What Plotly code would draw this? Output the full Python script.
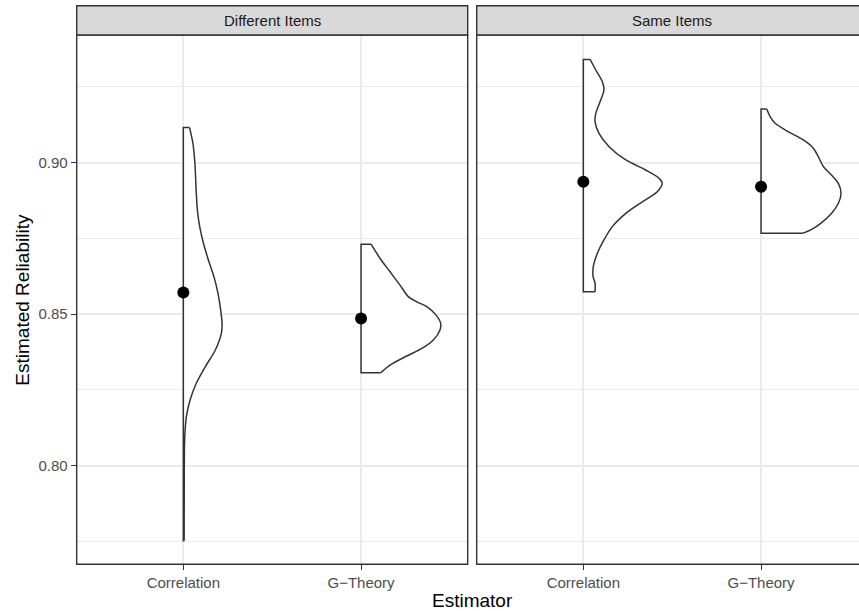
import plotly.graph_objects as go

# ---------------- data ----------------
facets = ["Different Items", "Same Items"]
estimators = ["Correlation", "G\u2212Theory"]
y_ticks = [0.80, 0.85, 0.90]
y_tick_labels = ["0.80", "0.85", "0.90"]
y_minor = [0.775, 0.825, 0.875, 0.925]

mean_diff = [0.8572, 0.8486]
mean_same = [0.8937, 0.8921]

# half-violin outlines: estimated reliability value and half-width (category units)
diff_corr_y = [0.9116, 0.9064, 0.8998, 0.8899, 0.8844, 0.8789, 0.8734, 0.8679, 0.8624,
               0.8569, 0.8514, 0.8470, 0.8437, 0.8382, 0.8327, 0.8272, 0.8217, 0.8162,
               0.8107, 0.8050, 0.7900, 0.7752]
diff_corr_w = [0.035, 0.054, 0.065, 0.073, 0.079, 0.092, 0.113, 0.141, 0.172,
               0.195, 0.210, 0.218, 0.214, 0.180, 0.124, 0.073, 0.038, 0.017,
               0.009, 0.006, 0.005, 0.0045]

diff_gth_y = [0.8731, 0.8684, 0.8640, 0.8596, 0.8558, 0.8541, 0.8525, 0.8497, 0.8470,
              0.8448, 0.8415, 0.8387, 0.8362, 0.8332, 0.8307]
diff_gth_w = [0.056, 0.107, 0.163, 0.219, 0.266, 0.313, 0.370, 0.422, 0.448,
              0.444, 0.407, 0.342, 0.257, 0.163, 0.111]

same_corr_y = [0.9341, 0.9306, 0.9267, 0.9240, 0.9207, 0.9163, 0.9135, 0.9097, 0.9053,
               0.9009, 0.8976, 0.8949, 0.8932, 0.8904, 0.8871, 0.8833, 0.8789, 0.8745,
               0.8701, 0.8657, 0.8624, 0.8602, 0.8574]
same_corr_w = [0.038, 0.070, 0.107, 0.116, 0.098, 0.070, 0.066, 0.088, 0.145,
               0.239, 0.351, 0.426, 0.444, 0.416, 0.332, 0.239, 0.163, 0.116,
               0.079, 0.056, 0.055, 0.066, 0.066]

same_gth_y = [0.9177, 0.9152, 0.9130, 0.9102, 0.9075, 0.9048, 0.9020, 0.8987, 0.8959,
              0.8932, 0.8899, 0.8866, 0.8833, 0.8802, 0.8780, 0.8767]
same_gth_w = [0.032, 0.051, 0.079, 0.154, 0.238, 0.294, 0.322, 0.351, 0.397,
              0.435, 0.450, 0.435, 0.397, 0.341, 0.285, 0.234]

# ---------------- styling ----------------
W, H = 859, 611
FONT = "Liberation Sans, Arial, Helvetica, sans-serif"
OUTLINE = "#333333"
GRID = "#EBEBEB"
TICKTXT = "#4D4D4D"

# panel geometry in pixels
panel_top, panel_bot = 35.0, 564.3
strip_top = 5.7
left_x0, left_x1 = 76.7, 467.7
right_x0 = 476.7
unit_px = (left_x1 - left_x0) / 2.2

def px_x(p):
    return p / W

def px_y(p):
    return 1 - p / H

fig = go.Figure()

violins = [
    ("x", "y", 1, diff_corr_y, diff_corr_w, mean_diff[0]),
    ("x", "y", 2, diff_gth_y, diff_gth_w, mean_diff[1]),
    ("x2", "y2", 1, same_corr_y, same_corr_w, mean_same[0]),
    ("x2", "y2", 2, same_gth_y, same_gth_w, mean_same[1]),
]

for xa, ya, pos, ys, ws, m in violins:
    xs = [pos + w for w in ws]
    # white fill
    fig.add_trace(go.Scatter(
        x=[pos] + xs + [pos], y=[ys[0]] + ys + [ys[-1]],
        xaxis=xa, yaxis=ya, mode="lines", fill="toself", fillcolor="white",
        line=dict(width=0, shape="spline"), hoverinfo="skip", showlegend=False))
    # curved edge
    fig.add_trace(go.Scatter(
        x=xs, y=ys, xaxis=xa, yaxis=ya, mode="lines",
        line=dict(color=OUTLINE, width=1.5, shape="spline", smoothing=0.8),
        hoverinfo="skip", showlegend=False))
    # straight edges
    fig.add_trace(go.Scatter(
        x=[xs[0], pos, pos, xs[-1]], y=[ys[0], ys[0], ys[-1], ys[-1]],
        xaxis=xa, yaxis=ya, mode="lines",
        line=dict(color=OUTLINE, width=1.5), hoverinfo="skip", showlegend=False))
    # mean point
    fig.add_trace(go.Scatter(
        x=[pos], y=[m], xaxis=xa, yaxis=ya, mode="markers",
        marker=dict(color="black", size=12), showlegend=False))

y_range = [0.76746, 0.94215]
common_x = dict(
    tickmode="array", tickvals=[1, 2], ticktext=estimators,
    showgrid=True, gridcolor=GRID, gridwidth=1.6, zeroline=False, showline=False,
    ticks="outside", ticklen=5, tickwidth=1.3, tickcolor=OUTLINE,
    tickfont=dict(family=FONT, size=15, color=TICKTXT), fixedrange=True,
)
common_y = dict(
    range=y_range, tickmode="array", tickvals=y_ticks, ticktext=y_tick_labels,
    showgrid=True, gridcolor=GRID, gridwidth=1.6, zeroline=False, showline=False,
    minor=dict(tickmode="array", tickvals=y_minor, showgrid=True,
               gridcolor=GRID, gridwidth=0.8, ticks=""),
    domain=[px_y(panel_bot), px_y(panel_top)], fixedrange=True,
)

fig.update_layout(
    width=W, height=H, autosize=False,
    margin=dict(l=0, r=0, t=0, b=0, pad=0),
    paper_bgcolor="white", plot_bgcolor="white",
    xaxis=dict(common_x, domain=[px_x(left_x0), px_x(left_x1)], range=[0.4, 2.6], anchor="y"),
    xaxis2=dict(common_x, domain=[px_x(right_x0), 1.0],
                range=[0.4, 0.4 + (W - right_x0) / unit_px], anchor="y2"),
    yaxis=dict(common_y, anchor="x", ticks="outside", ticklen=5, tickwidth=1.3,
               tickcolor=OUTLINE, tickfont=dict(family=FONT, size=15, color=TICKTXT)),
    yaxis2=dict(common_y, anchor="x2", matches="y", showticklabels=False, ticks=""),
    showlegend=False,
)

shapes = []
# panel borders
for x0, x1 in [(left_x0, left_x1), (right_x0, W + 6)]:
    shapes.append(dict(type="rect", xref="paper", yref="paper",
                       x0=px_x(x0), x1=px_x(x1), y0=px_y(panel_bot), y1=px_y(panel_top),
                       line=dict(color=OUTLINE, width=1.4), fillcolor="rgba(0,0,0,0)",
                       layer="above"))
    shapes.append(dict(type="rect", xref="paper", yref="paper",
                       x0=px_x(x0), x1=px_x(x1), y0=px_y(panel_top), y1=px_y(strip_top),
                       line=dict(color=OUTLINE, width=1.4), fillcolor="#D9D9D9",
                       layer="above"))
fig.update_layout(shapes=shapes)

annotations = [
    dict(text=facets[0], x=px_x((left_x0 + left_x1) / 2), y=px_y((strip_top + panel_top) / 2)),
    dict(text=facets[1], x=px_x((right_x0 + right_x0 + (left_x1 - left_x0)) / 2),
         y=px_y((strip_top + panel_top) / 2)),
]
for a in annotations:
    a.update(xref="paper", yref="paper", showarrow=False, xanchor="center", yanchor="middle",
             font=dict(family=FONT, size=15, color="#1A1A1A"))
annotations.append(dict(text="Estimator", x=px_x(472.7), y=px_y(600), xref="paper", yref="paper",
                        showarrow=False, xanchor="center", yanchor="middle",
                        font=dict(family=FONT, size=19, color="black")))
annotations.append(dict(text="Estimated Reliability", x=px_x(23), y=px_y((panel_top + panel_bot) / 2),
                        xref="paper", yref="paper", showarrow=False, textangle=-90,
                        xanchor="center", yanchor="middle",
                        font=dict(family=FONT, size=19, color="black")))
fig.update_layout(annotations=annotations)

fig.write_html("out.html", config=dict(displayModeBar=False),
               post_script="document.body.style.margin='0';document.body.style.overflow='hidden';")
